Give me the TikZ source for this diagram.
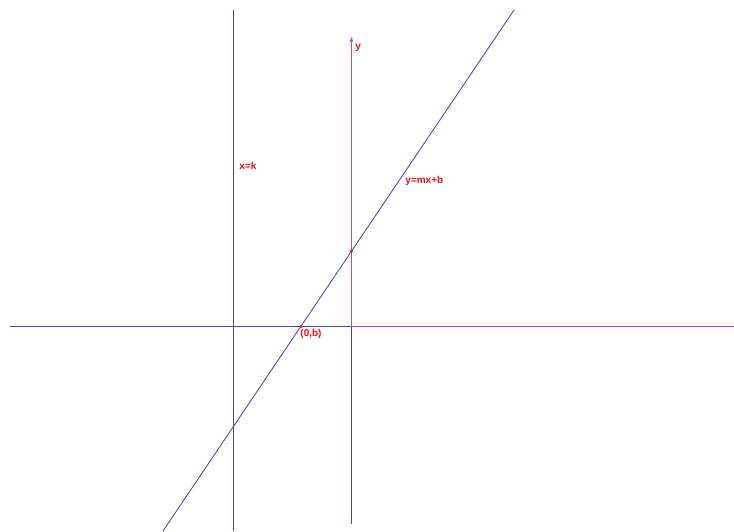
\documentclass[tikz,border=0pt]{standalone}
\usepackage{fontspec}
\setmainfont{Liberation Sans}
\usetikzlibrary{arrows.meta}
\definecolor{lineblue}{HTML}{4848A8}
\definecolor{linepurple}{HTML}{A850B0}
\definecolor{labelred}{HTML}{F01010}
\tikzset{
  lbl/.style={text=labelred, font=\fontsize{7.5}{9}\selectfont\bfseries, inner sep=0pt},
  pt/.style={circle, fill=labelred, inner sep=0pt, minimum size=2.5pt},
}
\begin{document}
\begin{tikzpicture}[x=0.75pt, y=-0.75pt, line width=0.65pt]
  \useasboundingbox (0,0) rectangle (734,531);
  % axes and lines
  \coordinate (xl) at (10,326.5);
  \coordinate (o) at (351.5,326.5);
  \coordinate (xr) at (734,326.5);
  \coordinate (yb) at (351.5,524);
  \coordinate (yt) at (351.5,37);
  \coordinate (kt) at (233.5,10);
  \coordinate (kb) at (233.5,531);
  \coordinate (lb) at (163,531);
  \coordinate (lt) at (514,10);
  \draw[lineblue] (xl) -- (o);
  \draw[linepurple] (o) -- (xr);
  \draw[lineblue] (yb) -- (o);
  \draw[linepurple, -{Stealth[length=4pt, width=3pt]}] (o) -- (yt);
  \draw[lineblue] (kb) -- (kt);
  \draw[lineblue] (lb) -- (lt);
  % points
  \node[pt] (p0) at (301,326.5) {};
  \node[pt] (pb) at (351.5,251) {};
  % labels
  \node[lbl, anchor=west] (ylab) at (355,48) {y};
  \node[lbl, anchor=west] (klab) at (239,166) {x=k};
  \node[lbl, anchor=west] (mlab) at (405,181) {y=mx+b};
  \node[lbl, anchor=west] (blab) at (300,334) {(0,b)};
\end{tikzpicture}
\end{document}
